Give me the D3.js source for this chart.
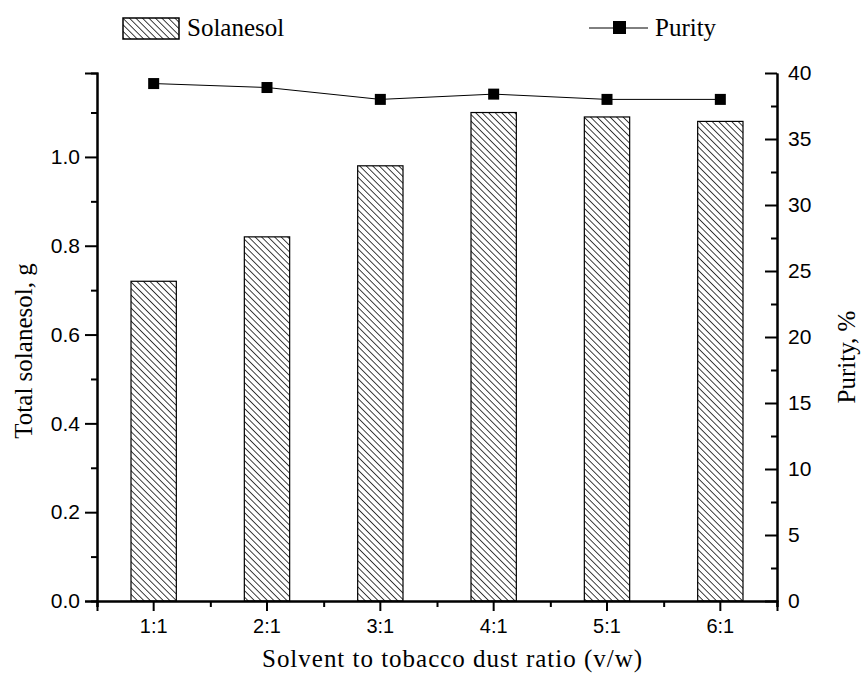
<!DOCTYPE html>
<html>
<head>
<script src="https://d3js.org/d3.v7.min.js"></script>
<style>
  body { margin: 0; background: #fff; }
  .tick text { font-family: "Liberation Sans", Arial, sans-serif; font-size: 21px; }
  .title { font-family: "Liberation Serif", "Times New Roman", serif; font-size: 25px; }
</style>
</head>
<body>
<svg id="chart" width="863" height="677"></svg>
<script>
const ratios = ["1:1", "2:1", "3:1", "4:1", "5:1", "6:1"];
const solanesol = [0.72, 0.82, 0.98, 1.10, 1.09, 1.08];
const purity = [39.2, 38.9, 38.0, 38.4, 38.0, 38.0];
const leftTicks = [0, 0.2, 0.4, 0.6, 0.8, 1.0];
const rightTicks = [0, 5, 10, 15, 20, 25, 30, 35, 40];

const svg = d3.select("#chart");
const margin = { top: 73, right: 86, bottom: 76, left: 97 };
const width = 863 - margin.left - margin.right;
const height = 677 - margin.top - margin.bottom;

const hs = 4.6;
const defs = svg.append("defs");
const pat = defs.append("pattern")
    .attr("id", "hatch")
    .attr("patternUnits", "userSpaceOnUse")
    .attr("width", hs).attr("height", hs)
    .attr("patternTransform", "rotate(-45)");
pat.append("rect").attr("width", hs).attr("height", hs).attr("fill", "#fff");
pat.append("line")
    .attr("x1", 0).attr("y1", 0).attr("x2", 0).attr("y2", hs)
    .attr("stroke", "#000").attr("stroke-width", 1.5);

const g = svg.append("g").attr("transform", `translate(${margin.left},${margin.top})`);

const x = d3.scaleBand().domain(ratios).range([0, width]);
const yL = d3.scaleLinear().domain([0, 1.189]).range([height, 0]);
const yR = d3.scaleLinear().domain([0, 40]).range([height, 0]);

// bars
const bw = x.bandwidth() * 0.4;
g.selectAll(".bar")
    .data(ratios)
    .enter().append("rect")
    .attr("class", "bar")
    .attr("x", d => x(d) + x.bandwidth() / 2 - bw / 2)
    .attr("y", (d, i) => yL(solanesol[i]))
    .attr("width", bw)
    .attr("height", (d, i) => height - yL(solanesol[i]))
    .attr("fill", "url(#hatch)")
    .attr("stroke", "#000")
    .attr("stroke-width", 1.2);

// purity line
const line = d3.line()
    .x((d, i) => x(ratios[i]) + x.bandwidth() / 2)
    .y(d => yR(d));
g.append("path")
    .datum(purity)
    .attr("d", line)
    .attr("fill", "none")
    .attr("stroke", "#000")
    .attr("stroke-width", 1);
g.selectAll(".pt")
    .data(purity)
    .enter().append("rect")
    .attr("class", "pt")
    .attr("x", (d, i) => x(ratios[i]) + x.bandwidth() / 2 - 5.5)
    .attr("y", d => yR(d) - 5.5)
    .attr("width", 11).attr("height", 11)
    .attr("fill", "#000");

// left axis
g.append("g")
    .call(d3.axisLeft(yL).tickValues(leftTicks).tickFormat(d3.format(".1f")).tickSize(12).tickPadding(5));
g.append("g")
    .call(d3.axisLeft(yL).tickValues([0.1, 0.3, 0.5, 0.7, 0.9, 1.1]).tickFormat("").tickSize(6));

// right axis, ticks pointing inward
const rightAxis = g.append("g")
    .attr("transform", `translate(${width},0)`)
    .call(d3.axisRight(yR).tickValues(rightTicks).tickSize(0).tickPadding(11));
rightAxis.selectAll(".tick").append("line")
    .attr("x2", -12).attr("stroke", "#000");
g.append("g")
    .attr("transform", `translate(${width},0)`)
    .call(d3.axisRight(yR).tickValues(d3.range(2.5, 40, 5)).tickFormat("").tickSize(0))
    .selectAll(".tick").append("line").attr("x2", -6).attr("stroke", "#000");

// bottom axis
const bottomAxis = g.append("g")
    .attr("transform", `translate(0,${height})`)
    .call(d3.axisBottom(x).tickSize(10).tickPadding(8));
bottomAxis.selectAll(".tick text").style("font-size", "20px");
const bx = d3.scaleLinear().domain([0, ratios.length]).range([0, width]);
g.append("g")
    .attr("transform", `translate(0,${height})`)
    .call(d3.axisBottom(bx).tickValues(d3.range(0, ratios.length + 1)).tickFormat("").tickSize(6));

g.selectAll(".domain").attr("stroke-width", 2).attr("stroke", "#000");
g.selectAll(".tick line").attr("stroke-width", 2);
g.selectAll(".tick text").attr("fill", "#000");

// axis titles
svg.append("text").attr("class", "title")
    .attr("x", 452).attr("y", 667)
    .attr("text-anchor", "middle")
    .attr("textLength", 380).attr("lengthAdjust", "spacing")
    .text("Solvent to tobacco dust ratio (v/w)");
svg.append("text").attr("class", "title")
    .attr("transform", "translate(32,351) rotate(-90)")
    .attr("text-anchor", "middle")
    .text("Total solanesol, g");
svg.append("text").attr("class", "title")
    .attr("transform", "translate(855,357) rotate(-90)")
    .attr("text-anchor", "middle")
    .text("Purity, %");

// legend
svg.append("rect")
    .attr("x", 123).attr("y", 18).attr("width", 56).attr("height", 21)
    .attr("fill", "url(#hatch)").attr("stroke", "#000").attr("stroke-width", 1.5);
svg.append("text").attr("class", "title")
    .attr("x", 187).attr("y", 36).text("Solanesol");
svg.append("line")
    .attr("x1", 589).attr("x2", 648).attr("y1", 28).attr("y2", 28)
    .attr("stroke", "#000").attr("stroke-width", 1);
svg.append("rect")
    .attr("x", 613).attr("y", 21).attr("width", 13).attr("height", 13).attr("fill", "#000");
svg.append("text").attr("class", "title")
    .attr("x", 655).attr("y", 36).text("Purity");
</script>
</body>
</html>
